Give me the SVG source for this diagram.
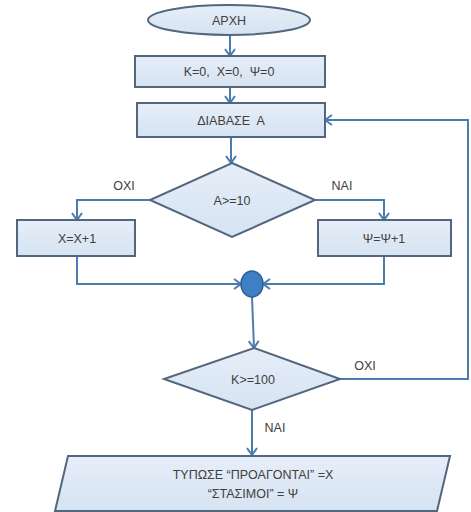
<svg xmlns="http://www.w3.org/2000/svg" width="471" height="512" viewBox="0 0 471 512">
  <defs>
    <marker id="arrow" markerUnits="userSpaceOnUse" markerWidth="14" markerHeight="14" refX="9" refY="6" orient="auto">
      <path d="M2,1 L9,6 L2,11" fill="none" stroke="#4a7cb0" stroke-width="2" stroke-linejoin="miter"/>
    </marker>
    <linearGradient id="boxFill" x1="0" y1="0" x2="0" y2="1">
      <stop offset="0" stop-color="#e6eef8"/>
      <stop offset="1" stop-color="#d6e3f2"/>
    </linearGradient>
  </defs>
  <style>
    .shape { fill: url(#boxFill); stroke: #52677d; stroke-width: 2; }
    .link { fill: none; stroke: #4a7cb0; stroke-width: 2; marker-end: url(#arrow); }
    text { font-family: "Liberation Sans", "DejaVu Sans", sans-serif; font-size: 12.5px; fill: #404040; text-anchor: middle; white-space: pre; }
  </style>
  <rect width="471" height="512" fill="#ffffff"/>

  <!-- connectors -->
  <g id="connectors">
    <path class="link" d="M230,35 V56"/>
    <path class="link" d="M230,87 V103"/>
    <path class="link" d="M231,137 V163"/>
    <path class="link" d="M150,200 H77 V220"/>
    <path class="link" d="M315,200 H384 V220"/>
    <path class="link" d="M77,256 V284 H241"/>
    <path class="link" d="M384,256 V284 H263"/>
    <path class="link" d="M252,297 L254,348"/>
    <path class="link" d="M340,379 H468 V120 H325"/>
    <path class="link" d="M252,410 V455"/>
  </g>

  <!-- branch labels -->
  <g id="labels">
    <text x="124" y="190">ΟΧΙ</text>
    <text x="342" y="190">ΝΑΙ</text>
    <text x="365" y="370">ΟΧΙ</text>
    <text x="275" y="432">ΝΑΙ</text>
  </g>

  <g id="start">
    <ellipse class="shape" cx="229" cy="20" rx="81" ry="15"/>
    <text x="229" y="25">ΑΡΧΗ</text>
  </g>

  <g id="init">
    <rect class="shape" x="135" y="56" width="190" height="31"/>
    <text x="229" y="76" xml:space="preserve">Κ=0,  Χ=0,  Ψ=0</text>
  </g>

  <g id="read">
    <rect class="shape" x="137" y="103" width="188" height="34"/>
    <text x="231" y="125" xml:space="preserve">ΔΙΑΒΑΣΕ  Α</text>
  </g>

  <g id="test-a">
    <polygon class="shape" points="232,163 315,200 232,237 150,200"/>
    <text x="232" y="205">Α&gt;=10</text>
  </g>

  <g id="inc-x">
    <rect class="shape" x="17" y="220" width="118" height="36"/>
    <text x="77" y="243">Χ=Χ+1</text>
  </g>

  <g id="inc-psi">
    <rect class="shape" x="318" y="220" width="133" height="36"/>
    <text x="384" y="243">Ψ=Ψ+1</text>
  </g>

  <g id="join">
    <ellipse cx="252" cy="284" rx="11" ry="13" fill="#3f7fc4" stroke="#2f5f94" stroke-width="1.5"/>
  </g>

  <g id="test-k">
    <polygon class="shape" points="254,348 340,379 252,410 164,379"/>
    <text x="253" y="384">Κ&gt;=100</text>
  </g>

  <g id="print">
    <polygon class="shape" points="68,456 450,456 437,511 55,511"/>
    <text x="253" y="479">ΤΥΠΩΣΕ “ΠΡΟΑΓΟΝΤΑΙ” =Χ</text>
    <text x="253" y="498">“ΣΤΑΣΙΜΟΙ” = Ψ</text>
  </g>
</svg>
